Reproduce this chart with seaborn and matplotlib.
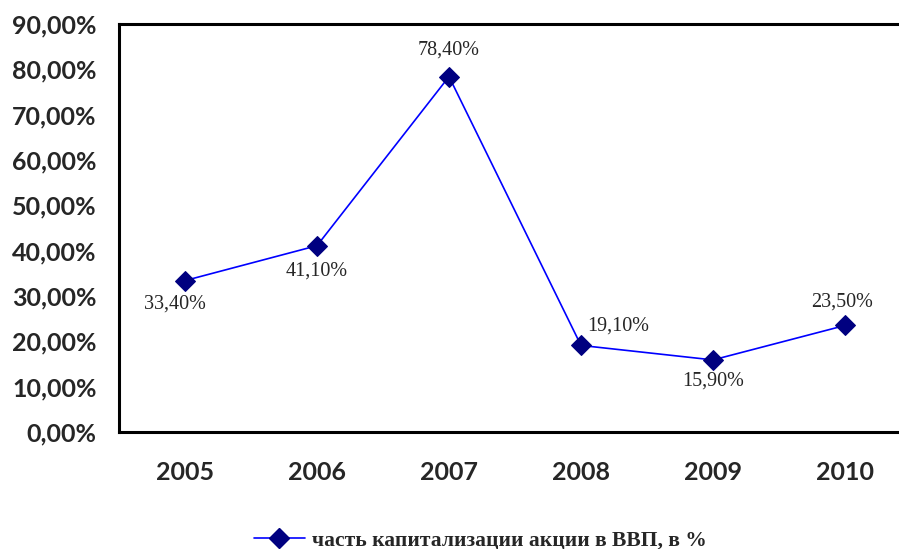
import numpy as np
import pandas as pd
import matplotlib
matplotlib.use('Agg')
import matplotlib.pyplot as plt
import seaborn as sns
from matplotlib.ticker import FuncFormatter, FixedLocator
from matplotlib.lines import Line2D

# Данные
anos = ['2005', '2006', '2007', '2008', '2009', '2010']
valores = [33.4, 41.1, 78.4, 19.1, 15.9, 23.5]
rotulos = ['33,40%', '41,10%', '78,40%', '19,10%', '15,90%', '23,50%']
serie = 'часть капитализации акции в ВВП, в %'

df = pd.DataFrame({'idx': np.arange(len(anos)), 'valor': valores})

sns.set_style('white')
plt.rcParams['font.family'] = ['DejaVu Sans']

fig = plt.figure(figsize=(8.99, 5.49), dpi=100)
ax = fig.add_axes([119/899, 117/549, 792/899, 408/549])

sns.lineplot(data=df, x='idx', y='valor', ax=ax, color='#0000FF', linewidth=1.2,
             marker='D', markersize=10, markerfacecolor='#000080',
             markeredgecolor='#000080')

ax.set_xlim(-0.5, 5.5)
ax.set_ylim(0, 90)
ax.set_yticks(np.arange(0, 91, 10))
ax.yaxis.set_major_formatter(FuncFormatter(lambda v, p: f'{v:.2f}%'.replace('.', ',')))
ax.set_xticks(np.arange(len(anos)))
ax.set_xticklabels(anos)
ax.xaxis.set_minor_locator(FixedLocator(np.arange(-0.5, 5.6, 1)))
ax.tick_params(axis='x', which='major', length=0, pad=21)
ax.tick_params(axis='x', which='minor', length=7, width=1.5, direction='out', color='black')
ax.tick_params(axis='y', length=6, width=1.5, direction='out', color='black', pad=10)
ax.set_xlabel('')
ax.set_ylabel('')

for lab in ax.get_xticklabels() + ax.get_yticklabels():
    lab.set_fontfamily('Lato')
    lab.set_fontweight('bold')
    lab.set_fontsize(18)

for s in ['left', 'bottom', 'top']:
    ax.spines[s].set_linewidth(2.2)
    ax.spines[s].set_color('black')
ax.spines['right'].set_visible(False)

# подписи данных
desloc = [(-7, -17), (0, -18), (0, 19), (27, 14), (0, -15), (-2, 17)]
for i, (v, t) in enumerate(zip(valores, rotulos)):
    ax.annotate(t, (i, v), xytext=desloc[i], textcoords='offset points',
                ha='center', va='center', fontsize=14.5,
                fontfamily='Liberation Serif')

h = Line2D([], [], color='#0000FF', linewidth=1.2, marker='D', markersize=10,
           markerfacecolor='#000080', markeredgecolor='#000080')
fig.legend([h], [serie], loc='center', bbox_to_anchor=(480/899, 1 - 540/549),
           frameon=False, handlelength=2.4, handletextpad=0.3,
           prop={'family': 'Liberation Serif', 'weight': 'bold', 'size': 15.5})

fig.savefig('out.png', dpi=100)
